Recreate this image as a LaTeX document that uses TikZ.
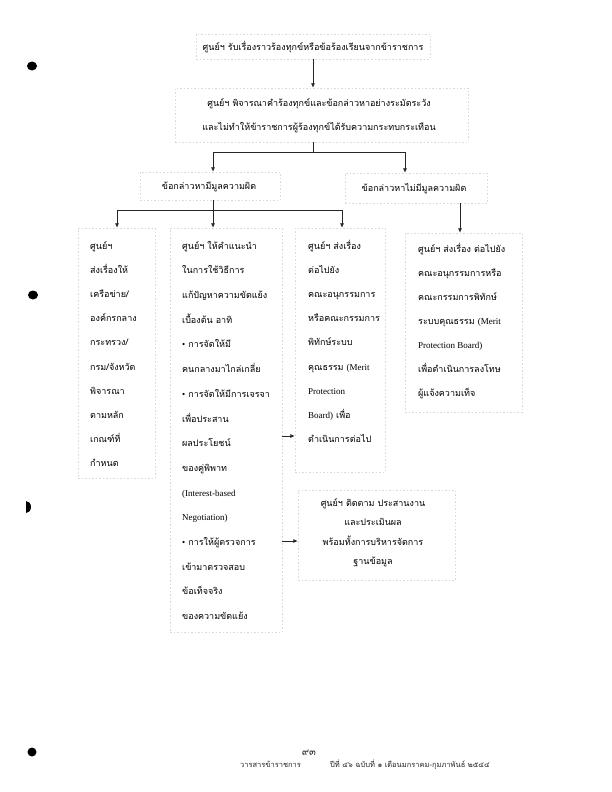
\documentclass[tikz,border=0pt]{standalone}
\usepackage{fontspec}
\newfontfamily\thai[Script=Thai]{Loma}
\newfontfamily\latn{Liberation Serif}
\usetikzlibrary{arrows.meta}
\begin{document}
\begin{tikzpicture}[x=1pt,y=-1pt,
 bx/.style={draw=gray!30, dash pattern=on 1.5pt off 2pt, line width=0.5pt, inner sep=0pt, rectangle},
 txt/.style={inner sep=0pt, font=\thai\fontsize{9}{11}\selectfont, text=black},
 ftxt/.style={inner sep=0pt, font=\thai\fontsize{7.5}{9}\selectfont, text=black!85},
 arr/.style={draw=black!85, line width=0.7pt, -{Latex[length=4.5pt,width=4pt]}},
 ln/.style={draw=black!85, line width=0.7pt},
 hole/.style={fill=black}]
\fill[white] (0,0) rectangle (612,792);
\useasboundingbox (0,0) rectangle (612,792);
% boxes
\node[bx, minimum width=234pt, minimum height=25pt] (b1) at (313,46.5) {};
\node[bx, minimum width=293pt, minimum height=54pt] (b2) at (321.5,115) {};
\node[bx, minimum width=140pt, minimum height=28pt] (b3) at (210,186) {};
\node[bx, minimum width=142pt, minimum height=30pt] (b4) at (416,188) {};
\node[bx, minimum width=77pt, minimum height=250pt] (b5) at (116.5,353) {};
\node[bx, minimum width=112pt, minimum height=404pt] (b6) at (226,430) {};
\node[bx, minimum width=90pt, minimum height=244pt] (b7) at (340,350) {};
\node[bx, minimum width=117pt, minimum height=179pt] (b8) at (463.5,322.5) {};
\node[bx, minimum width=157pt, minimum height=90pt] (b9) at (376.5,535) {};
% texts
\node[txt, anchor=mid] (t1) at (313,48) {ศูนย์ฯ รับเรื่องราวร้องทุกข์หรือข้อร้องเรียนจากข้าราชการ};
\node[txt, anchor=mid] (t2a) at (319,104) {ศูนย์ฯ พิจารณาคำร้องทุกข์และข้อกล่าวหาอย่างระมัดระวัง};
\node[txt, anchor=mid] (t2b) at (319,128) {และไม่ทำให้ข้าราชการผู้ร้องทุกข์ได้รับความกระทบกระเทือน};
\node[txt, anchor=mid] (t3) at (209,187) {ข้อกล่าวหามีมูลความผิด};
\node[txt, anchor=mid] (t4) at (414,189) {ข้อกล่าวหาไม่มีมูลความผิด};
\foreach \t [count=\i] in {ศูนย์ฯ,ส่งเรื่องให้,เครือข่าย/,องค์กรกลาง,กระทรวง/,กรม/จังหวัด,พิจารณา,ตามหลัก,เกณฑ์ที่,กำหนด}
  \node[txt, anchor=mid west] (t5-\i) at (90,{247+24.2*(\i-1)}) {\t};
\foreach \t [count=\i] in {ศูนย์ฯ ให้คำแนะนำ,ในการใช้วิธีการ,แก้ปัญหาความขัดแย้ง,เบื้องต้น อาทิ,{\latn •} การจัดให้มี,คนกลางมาไกล่เกลี่ย,{\latn •} การจัดให้มีการเจรจา,เพื่อประสาน,ผลประโยชน์,ของคู่พิพาท,{\latn (Interest-based},{\latn Negotiation)},{\latn •} การให้ผู้ตรวจการ,เข้ามาตรวจสอบ,ข้อเท็จจริง,ของความขัดแย้ง}
  \node[txt, anchor=mid west] (t6-\i) at (182,{247+24.7*(\i-1)}) {\t};
\foreach \t [count=\i] in {ศูนย์ฯ ส่งเรื่อง,ต่อไปยัง,คณะอนุกรรมการ,หรือคณะกรรมการ,พิทักษ์ระบบ,คุณธรรม {\latn (Merit},{\latn Protection},{\latn Board)} เพื่อ,ดำเนินการต่อไป}
  \node[txt, anchor=mid west] (t7-\i) at (308,{247+24.2*(\i-1)}) {\t};
\foreach \t [count=\i] in {ศูนย์ฯ ส่งเรื่อง ต่อไปยัง,คณะอนุกรรมการหรือ,คณะกรรมการพิทักษ์,ระบบคุณธรรม {\latn (Merit},{\latn Protection Board)},เพื่อดำเนินการลงโทษ,ผู้แจ้งความเท็จ}
  \node[txt, anchor=mid west] (t8-\i) at (418,{250+24*(\i-1)}) {\t};
\foreach \t [count=\i] in {ศูนย์ฯ ติดตาม ประสานงาน,และประเมินผล,พร้อมทั้งการบริหารจัดการ,ฐานข้อมูล}
  \node[txt, anchor=mid] (t9-\i) at (373,{504+19.5*(\i-1)}) {\t};
% connectors
\draw[arr] (b1.south -| 313,0) -- (b2.north -| 313,0);
\coordinate (j1) at (313,152);
\coordinate (j1l) at (213,152);
\coordinate (j1r) at (405,152);
\draw[ln] (b2.south -| j1) -- (j1);
\draw[ln] (j1l) -- (j1r);
\draw[arr] (j1l) -- (j1l |- b3.north);
\draw[arr] (j1r) -- (j1r |- b4.north);
\coordinate (j4) at (460,0);
\draw[arr] (b4.south -| j4) -- (b8.north -| j4);
\coordinate (j2) at (213,210);
\coordinate (j2l) at (117,210);
\coordinate (j2r) at (342,210);
\draw[ln] (b3.south -| j2) -- (j2);
\draw[ln] (j2l) -- (j2r);
\draw[arr] (j2l) -- (j2l |- b5.north);
\draw[arr] (j2) -- (j2 |- b6.north);
\draw[arr] (j2r) -- (j2r |- b7.north);
\coordinate (a1) at (0,436);
\coordinate (a2) at (0,541);
\draw[arr] (b6.east |- a1) -- (b7.west |- a1);
\draw[arr] (b6.east |- a2) -- (b9.west |- a2);
% footer
\node[ftxt, anchor=mid, font=\thai\fontsize{10}{12}\selectfont] (pg) at (309,753) {๙๓};
\node[ftxt, anchor=mid west] (f1) at (240,765) {วารสารข้าราชการ};
\node[ftxt, anchor=mid west] (f2) at (330,765) {ปีที่ ๔๖ ฉบับที่ ๑ เดือนมกราคม-กุมภาพันธ์ ๒๕๔๔};
% punch holes
\fill[hole] (32,66) ellipse (5 and 4.5);
\fill[hole] (33,295) ellipse (5 and 4.5);
\fill[hole] (26,513) arc[start angle=90, end angle=-90, x radius=5, y radius=6] -- cycle;
\fill[hole] (32,752) ellipse (4.5 and 4.5);
\end{tikzpicture}
\end{document}
